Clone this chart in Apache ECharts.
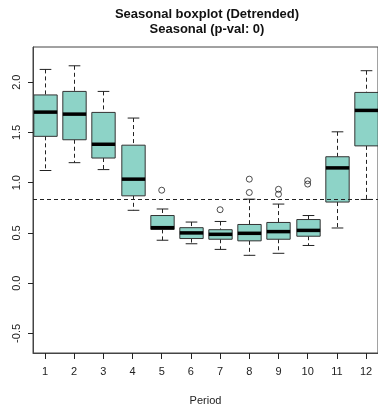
<!DOCTYPE html>
<html>
<head>
<meta charset="utf-8">
<script src="https://cdn.jsdelivr.net/npm/echarts@6/dist/echarts.min.js"></script>
<style>html,body{margin:0;padding:0;background:#fff;}#c{width:378px;height:411px;}</style>
</head>
<body>
<div id="c"></div>
<script>
// ---- data ----
const periods = [1, 2, 3, 4, 5, 6, 7, 8, 9, 10, 11, 12];
const mins    = [1.121, 1.199, 1.130, 0.725, 0.427, 0.392, 0.336, 0.277, 0.297, 0.375, 0.549, 0.833];
const q1s     = [1.461, 1.427, 1.245, 0.869, 0.535, 0.444, 0.437, 0.421, 0.437, 0.467, 0.807, 1.366];
const medians = [1.702, 1.682, 1.382, 1.035, 0.552, 0.500, 0.486, 0.496, 0.513, 0.525, 1.147, 1.719];
const q3s     = [1.873, 1.908, 1.699, 1.373, 0.673, 0.552, 0.532, 0.584, 0.604, 0.633, 1.258, 1.898];
const maxs    = [2.127, 2.163, 1.908, 1.643, 0.738, 0.608, 0.614, 0.836, 0.787, 0.673, 1.506, 2.114];
const outlierPeriods = [5, 7, 8, 8, 9, 9, 10, 10];
const outlierValues  = [0.925, 0.731, 1.035, 0.902, 0.934, 0.885, 1.020, 0.986];
const referenceLevel = 0.829;
const yTicks = [-0.5, 0.0, 0.5, 1.0, 1.5, 2.0];
const titleLines = ['Seasonal boxplot (Detrended)', 'Seasonal (p-val: 0)'];
const xTitle = 'Period';

// ---- chart ----
const boxData = periods.map((p, i) => [p, mins[i], q1s[i], medians[i], q3s[i], maxs[i]]);
const outData = outlierPeriods.map((p, i) => [p, outlierValues[i]]);
const FONT = 'Liberation Sans, Arial, sans-serif';
const INK = '#222';
const FRAME = '#444';

const chart = echarts.init(document.getElementById('c'), null, {renderer: 'canvas'});
chart.setOption({
  animation: false,
  backgroundColor: '#fff',
  graphic: [
    {type: 'text', x: 207, y: 8, style: {text: titleLines[0], textAlign: 'center', font: 'bold 13px ' + FONT, fill: '#111'}},
    {type: 'text', x: 207, y: 23, style: {text: titleLines[1], textAlign: 'center', font: 'bold 13px ' + FONT, fill: '#111'}}
  ],
  grid: {left: 33, top: 47, width: 348, height: 310, show: true, borderColor: FRAME, borderWidth: 1, backgroundColor: 'transparent'},
  xAxis: {
    type: 'value', min: 0.59, max: 12.41,
    position: 'bottom',
    name: xTitle, nameLocation: 'middle', nameGap: 42,
    nameTextStyle: {fontFamily: FONT, fontSize: 11, color: INK},
    axisLine: {show: true, onZero: false, lineStyle: {color: FRAME, width: 1}},
    splitLine: {show: false},
    axisTick: {show: true, inside: false, length: 6, customValues: periods, lineStyle: {color: '#222', width: 1}},
    axisLabel: {customValues: periods, margin: 13, fontFamily: FONT, fontSize: 11, color: INK, formatter: v => String(v)}
  },
  yAxis: {
    type: 'value', min: -0.695, max: 2.35,
    position: 'left',
    axisLine: {show: true, onZero: false, lineStyle: {color: FRAME, width: 1}},
    splitLine: {show: false},
    axisTick: {show: true, inside: false, length: 5, customValues: yTicks, lineStyle: {color: '#222', width: 1}},
    axisLabel: {customValues: yTicks, rotate: 90, margin: 11, fontFamily: FONT, fontSize: 11, color: INK, formatter: v => v.toFixed(1)}
  },
  series: [
    {
      type: 'custom',
      data: boxData,
      encode: {x: 0, y: [1, 2, 3, 4, 5]},
      clip: true,
      z: 3,
      renderItem: function (params, api) {
        const x = api.value(0);
        const pMin = api.coord([x, api.value(1)]);
        const pQ1 = api.coord([x, api.value(2)]);
        const pMed = api.coord([x, api.value(3)]);
        const pQ3 = api.coord([x, api.value(4)]);
        const pMax = api.coord([x, api.value(5)]);
        const band = api.size([1, 0])[0];
        const cx = Math.round(pMin[0]) + 0.5;
        const hb = band * 0.4, hc = band * 0.2;
        const dash = {stroke: INK, lineWidth: 1, lineDash: [4, 3]};
        const solid = {stroke: INK, lineWidth: 1};
        return {type: 'group', children: [
          {type: 'line', shape: {x1: cx, y1: pMax[1], x2: cx, y2: pQ3[1]}, style: dash},
          {type: 'line', shape: {x1: cx, y1: pQ1[1], x2: cx, y2: pMin[1]}, style: dash},
          {type: 'line', shape: {x1: cx - hc, y1: pMax[1], x2: cx + hc, y2: pMax[1]}, style: solid},
          {type: 'line', shape: {x1: cx - hc, y1: pMin[1], x2: cx + hc, y2: pMin[1]}, style: solid},
          {type: 'rect', shape: {x: cx - hb, y: pQ3[1], width: 2 * hb, height: pQ1[1] - pQ3[1]}, style: {fill: '#8DD3C7', stroke: '#333', lineWidth: 1}},
          {type: 'line', shape: {x1: cx - hb, y1: pMed[1], x2: cx + hb, y2: pMed[1]}, style: {stroke: '#000', lineWidth: 3.5}}
        ]};
      },
      markLine: {
        silent: true, symbol: 'none', label: {show: false},
        lineStyle: {color: INK, type: [4, 3], width: 1},
        data: [{yAxis: referenceLevel}]
      }
    },
    {
      type: 'scatter',
      data: outData,
      symbol: 'circle', symbolSize: 6,
      itemStyle: {color: 'rgba(0,0,0,0)', borderColor: INK, borderWidth: 1},
      z: 4
    }
  ]
});
</script>
</body>
</html>
